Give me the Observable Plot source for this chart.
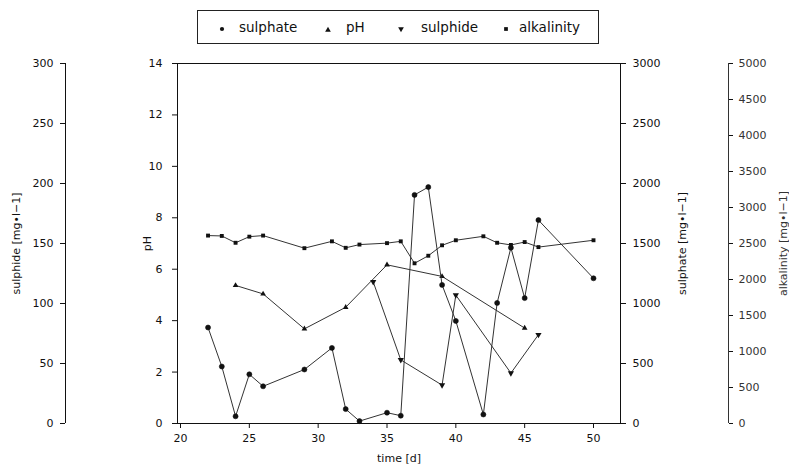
<!DOCTYPE html>
<html><head><meta charset="utf-8">
<script src="https://cdn.jsdelivr.net/npm/d3@7"></script>
<script src="https://cdn.jsdelivr.net/npm/@observablehq/plot@0.6"></script>
<style>
body{margin:0;background:#fff;}
#wrap{position:relative;width:789px;height:474px;font-family:"DejaVu Sans",sans-serif;color:#111;}
#wrap svg.plot{position:absolute;left:0;top:0;}
#legend{position:absolute;left:197px;top:10px;width:402px;height:34px;border:1px solid #222;box-sizing:border-box;font-size:13.5px;}
#legend .it{position:absolute;top:0;height:32px;line-height:32px;white-space:nowrap;}
#legend svg{position:absolute;top:0;}
</style>
</head><body>
<div id="wrap"><div id="legend"></div></div>
<script>
// ---- data ----
const timeTicks = [20, 25, 30, 35, 40, 45, 50];
const sulphateDays = [22,23,24,25,26,29,31,32,33,35,36,37,38,39,40,42,43,44,45,46,50];
const sulphate = [800,475,60,410,310,450,630,120,20,90,65,1905,1970,1155,855,75,1005,1465,1045,1695,1210];
const alkalinityDays = [22,23,24,25,26,29,31,32,33,35,36,37,38,39,40,42,43,44,45,46,50];
const alkalinity = [2610,2605,2510,2595,2610,2435,2530,2440,2485,2505,2530,2225,2330,2475,2545,2600,2510,2480,2520,2450,2545];
const pHDays = [24,26,29,32,35,39,45];
const pH = [5.37,5.04,3.68,4.52,6.17,5.72,3.71];
const sulphideDays = [34,36,39,40,44,46];
const sulphide = [118,53,32,107,42,74];
const pHTicks = [0,2,4,6,8,10,12,14];
const sulphateTicks = [0,500,1000,1500,2000,2500,3000];
const sulphideTicks = [0,50,100,150,200,250,300];
const alkalinityTicks = [0,500,1000,1500,2000,2500,3000,3500,4000,4500,5000];
const legendNames = ["sulphate","pH","sulphide","alkalinity"];

const sulphateData = sulphateDays.map((d,i)=>({t:d,v:sulphate[i]}));
const alkData = alkalinityDays.map((d,i)=>({t:d,v:alkalinity[i]}));
const pHData = pHDays.map((d,i)=>({t:d,v:pH[i]}));
const sulphideData = sulphideDays.map((d,i)=>({t:d,v:sulphide[i]}));

const W = 789, H = 474;
const xDomain = [19.782, 51.961];
const fmt = d => String(d);
const style = {background:"transparent", fontFamily:"DejaVu Sans, sans-serif", fontSize:"11px", color:"#111", overflow:"visible"};
const lineColor = "#333";

function frameOpts(extra){
  return Object.assign({width:W, height:H, marginLeft:177, marginRight:169, marginTop:63, marginBottom:51, style}, extra);
}
const wrap = document.getElementById("wrap");
function add(svg){ svg.classList.add("plot"); wrap.appendChild(svg); }

// pH plot with frame and x axis
add(Plot.plot(frameOpts({
  x:{domain:xDomain},
  y:{domain:[0,14]},
  marks:[
    Plot.frame({stroke:"#111"}),
    Plot.axisX({ticks:timeTicks, tickFormat:fmt, tickSize:5, tickPadding:6, label:"time [d]", labelAnchor:"center", labelOffset:38, labelArrow:"none"}),
    Plot.axisY({ticks:pHTicks, tickFormat:fmt, anchor:"left", tickSize:5, tickPadding:10, label:"pH", labelAnchor:"center", labelOffset:34, labelArrow:"none"}),
    Plot.line(pHData,{x:"t",y:"v",stroke:lineColor,strokeWidth:1}),
    Plot.dot(pHData,{x:"t",y:"v",symbol:"triangle",r:2.1,fill:"#111",stroke:"none"})
  ]
})));

// sulphate
add(Plot.plot(frameOpts({
  x:{domain:xDomain, axis:null},
  y:{domain:[0,3000]},
  marks:[
    Plot.axisY({ticks:sulphateTicks, tickFormat:fmt, anchor:"right", tickSize:5, tickPadding:7, label:"sulphate [mg•l−1]", labelAnchor:"center", labelOffset:65, labelArrow:"none"}),
    Plot.line(sulphateData,{x:"t",y:"v",stroke:lineColor,strokeWidth:1}),
    Plot.dot(sulphateData,{x:"t",y:"v",symbol:"circle",r:2.5,fill:"#111",stroke:"#111",strokeWidth:0.6})
  ]
})));

// sulphide data
add(Plot.plot(frameOpts({
  x:{domain:xDomain, axis:null},
  y:{domain:[0,300], axis:null},
  marks:[
    Plot.line(sulphideData,{x:"t",y:"v",stroke:lineColor,strokeWidth:1}),
    Plot.dot(sulphideData,{x:"t",y:"v",symbol:"triangle",rotate:180,r:2.3,fill:"#111",stroke:"none"})
  ]
})));

// alkalinity data
add(Plot.plot(frameOpts({
  x:{domain:xDomain, axis:null},
  y:{domain:[0,5000], axis:null},
  marks:[
    Plot.line(alkData,{x:"t",y:"v",stroke:lineColor,strokeWidth:1}),
    Plot.dot(alkData,{x:"t",y:"v",symbol:"square",r:2.2,fill:"#111",stroke:"none"})
  ]
})));

// sulphide axis (outer left)
add(Plot.plot({width:W, height:H, marginLeft:65, marginRight:W-66, marginTop:63, marginBottom:51, style,
  x:{domain:[0,1], axis:null},
  y:{domain:[0,300]},
  marks:[
    Plot.ruleX([0],{y1:0,y2:300,stroke:"#111"}),
    Plot.axisY({ticks:sulphideTicks, tickFormat:fmt, anchor:"left", tickSize:5, tickPadding:7, label:"sulphide [mg•l−1]", labelAnchor:"center", labelOffset:53, labelArrow:"none"})
  ]
}));

// alkalinity axis (outer right)
add(Plot.plot({width:W, height:H, marginLeft:727, marginRight:61, marginTop:63, marginBottom:51, style,
  x:{domain:[0,1], axis:null},
  y:{domain:[0,5000]},
  marks:[
    Plot.ruleX([1],{y1:0,y2:5000,stroke:"#333"}),
    Plot.axisY({ticks:alkalinityTicks, tickFormat:fmt, anchor:"right", tickSize:4, tickPadding:6, fill:"#333", label:"alkalinity [mg•l−1]", labelAnchor:"center", labelOffset:58, labelArrow:"none"})
  ]
}));

// legend
const legend = document.getElementById("legend");
const symPos = [24, 130, 203, 308];
const txtPos = [41, 148, 223, 321];
const syms = [d3.symbolCircle, d3.symbolTriangle, d3.symbolTriangle, d3.symbolSquare];
const rot = [0,0,180,0];
legendNames.forEach((name,i)=>{
  const s = document.createElementNS("http://www.w3.org/2000/svg","svg");
  s.setAttribute("width",12); s.setAttribute("height",32);
  s.style.left = (symPos[i]-6)+"px";
  const p = document.createElementNS("http://www.w3.org/2000/svg","path");
  p.setAttribute("d", d3.symbol(syms[i], 14)());
  p.setAttribute("transform", `translate(6,${i===1?19:18}) rotate(${rot[i]})`);
  p.setAttribute("fill","#111");
  s.appendChild(p);
  legend.appendChild(s);
  const t = document.createElement("span");
  t.className = "it"; t.textContent = name; t.style.left = txtPos[i]+"px";
  legend.appendChild(t);
});
</script>
</body></html>
